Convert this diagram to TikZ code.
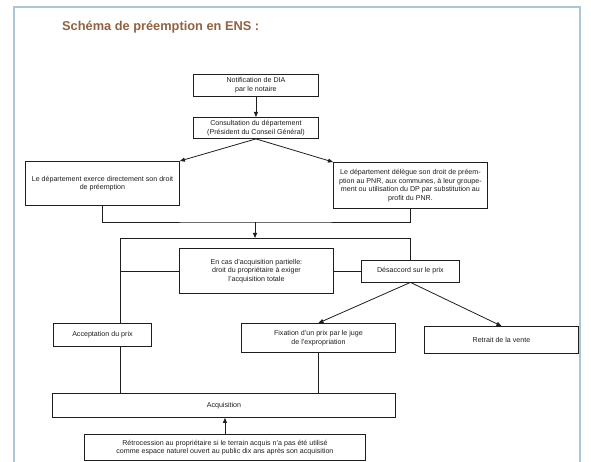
\documentclass[tikz,border=0pt]{standalone}
\usepackage{fontspec}
\setmainfont{Liberation Sans}
\usetikzlibrary{arrows.meta}
\definecolor{frameblue}{RGB}{172,198,216}
\definecolor{titlebrown}{RGB}{145,98,66}
\definecolor{ink}{RGB}{30,30,30}
\tikzset{
 box/.style={draw=ink, line width=0.9pt, anchor=north west, align=center, inner sep=1pt, font=\fontsize{7.1}{8.6}\selectfont, text=ink},
 conn/.style={draw=ink, line width=0.8pt},
 arr/.style={conn, -{Triangle[length=5pt,width=4pt]}},
}
\begin{document}
\begin{tikzpicture}[x=1pt,y=-1pt]
\useasboundingbox (0,0) rectangle (591,462);
\fill[white] (0,0) rectangle (591,462);
\draw[frameblue, line width=1.5pt] (14,463) -- (14,7) -- (580,7) -- (580,463);
\node[anchor=west, inner sep=0pt, font=\bfseries\fontsize{12.8}{14}\selectfont, text=titlebrown] (title) at (62,27) {Schéma de préemption en ENS :};

\node[box, minimum width=125pt, minimum height=22pt] (notif) at (193,74) {Notification de DIA\\par le notaire};
\node[box, minimum width=125pt, minimum height=21pt] (cons) at (193,117) {Consultation du département\\(Président du Conseil Général)};
\node[box, minimum width=154pt, minimum height=44pt] (left) at (25,161) {Le département exerce directement son droit\\de préemption};
\node[box, minimum width=154pt, minimum height=46pt] (right) at (333,162) {Le département délègue son droit de préem-\\ption au PNR, aux communes, à leur groupe-\\ment ou utilisation du DP par substitution au\\profit du PNR.};
\node[box, minimum width=154pt, minimum height=45pt] (partial) at (179,248) {En cas d'acquisition partielle:\\droit du propriétaire à exiger\\l'acquisition totale};
\node[box, minimum width=98pt, minimum height=22pt] (desac) at (361,259.5) {Désaccord sur le prix};
\node[box, minimum width=98pt, minimum height=23pt] (accept) at (53,323) {Acceptation du prix};
\node[box, minimum width=154pt, minimum height=29pt] (fix) at (241,323) {Fixation d'un prix par le juge\\de l'expropriation};
\node[box, minimum width=154pt, minimum height=27pt] (retrait) at (424,326) {Retrait de la vente};
\node[box, minimum width=343pt, minimum height=24pt] (acq) at (52,393) {Acquisition};
\node[box, minimum width=281pt, minimum height=26pt] (retro) at (84,434) {Rétrocession au propriétaire si le terrain acquis n'a pas été utilisé\\comme espace naturel ouvert au public dix ans après son acquisition};

\coordinate (j1) at (255,222);
\coordinate (j2) at (255,238);
\coordinate (bl) at (120,238);

\draw[arr] (notif) -- (cons);
\draw[arr] (cons.south) -- (left.north east);
\draw[arr] (cons.south) -- (right.north west);
\draw[conn] (left.south) |- (j1) -| (right.south);
\draw[arr] (j1) -- (j2);
\draw[conn] (desac.north) |- (bl) -- (bl |- accept.north);
\draw[conn] (bl |- partial.west) -- (partial.west);
\draw[conn] (partial.east) -- (desac.west);
\draw[arr] (desac.south) -- (fix.north);
\draw[arr] (desac.south) -- (retrait.north);
\draw[conn] (bl |- accept.south) -- (bl |- acq.north);
\draw[conn] (fix.south) -- (fix.south |- acq.north);
\draw[arr] (retro.north) -- (retro.north |- acq.south);
\end{tikzpicture}
\end{document}
